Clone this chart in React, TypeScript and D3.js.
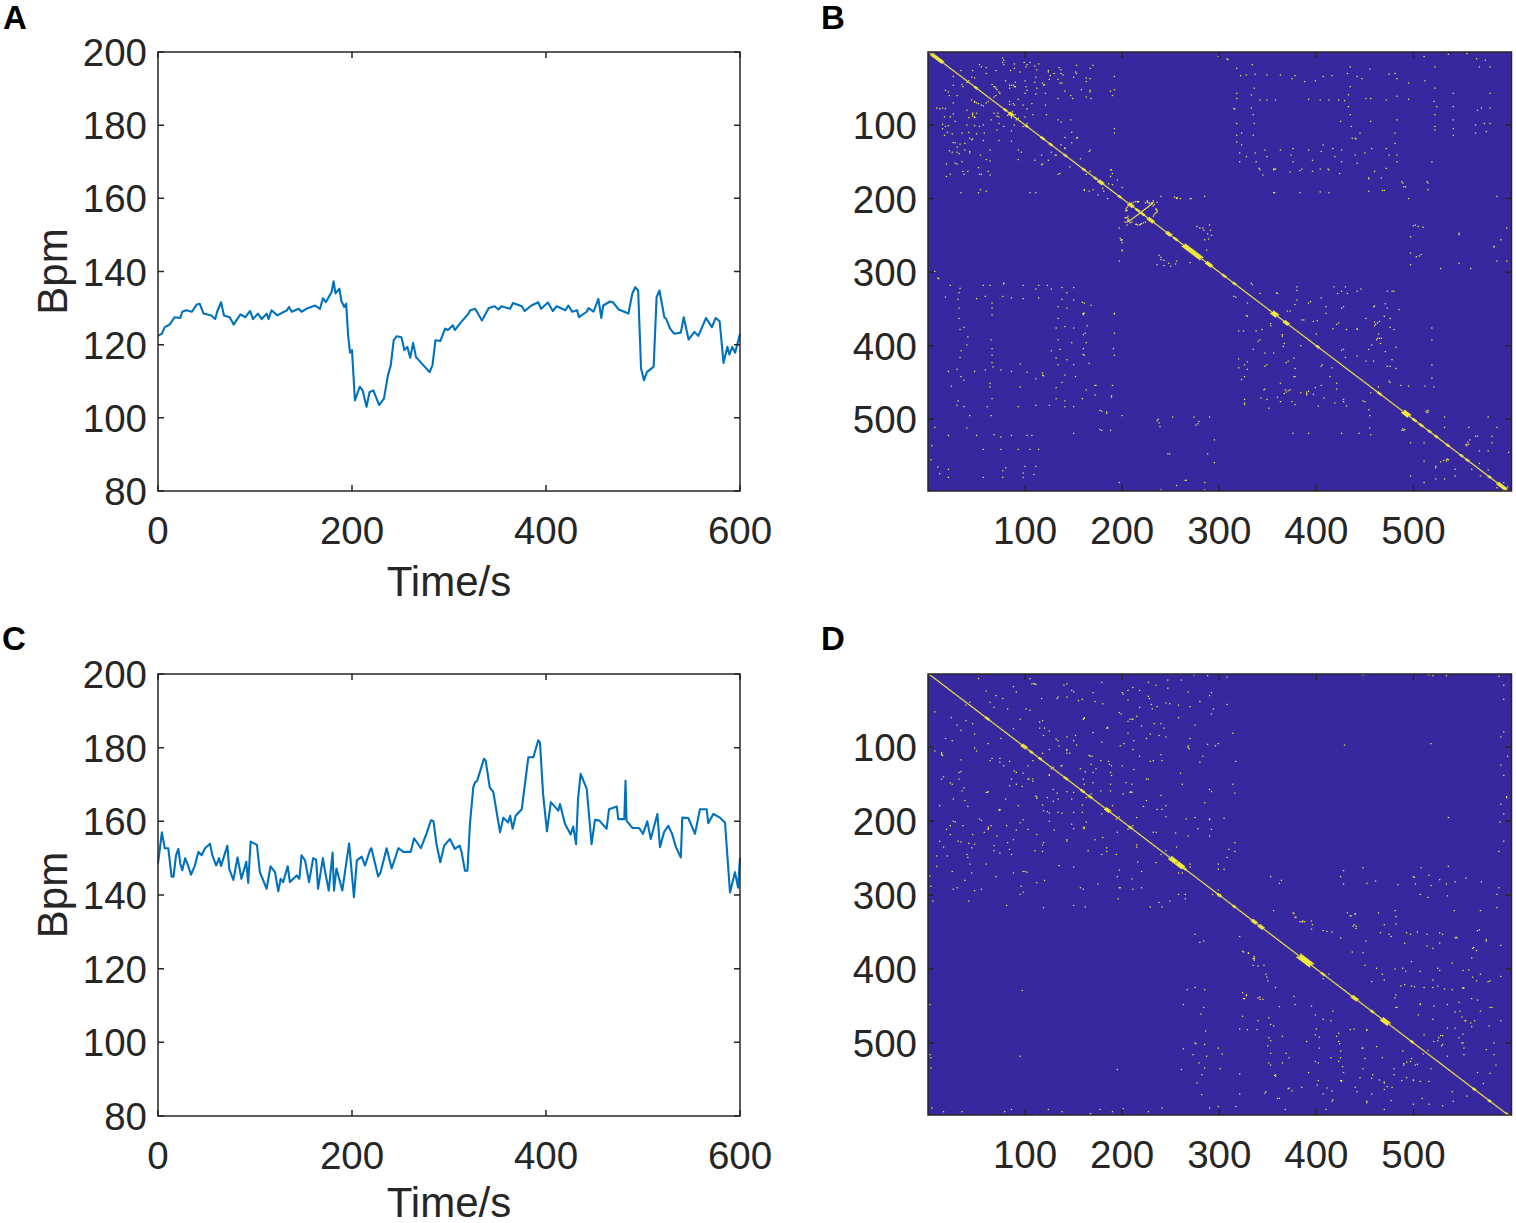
import React from "react";
import * as d3 from "d3";

const timeA = [0,4,7,12,17,23,25,29,35,40,43,47,55,59,61,65,68,74,78,85,90,95,98,103,107,112,114,117,123,133,135,138,145,148,153,162,167,170,173,179,181,183,187,189,192,194,196,198,200,203,208,211,215,218,222,228,233,237,240,243,246,251,254,257,260,263,266,280,283,286,291,296,299,304,306,311,320,322,327,334,341,347,351,354,363,366,375,378,385,392,395,402,407,411,420,423,427,432,434,442,444,449,454,457,459,466,469,475,485,489,492,495,498,501,504,511,514,517,522,524,528,532,539,542,547,553,557,565,571,575,579,583,587,589,592,595,600];
const bpmA = [122.4,123,124.8,125.5,127.5,127.3,129,129.4,129,131,131.2,128.5,128,127,129,131.6,128,127.5,125.5,128.3,127.5,129.2,127,128.5,127,128.5,127,129.4,128,129.4,130.3,129,129.8,129,129.8,130.7,129.8,132.7,131.6,134.4,137.3,134,135.3,132,130.3,131.2,122.5,117.8,118.5,104.8,108.5,107.5,103,107,107.5,103.5,105.3,111.6,114.4,121.2,122.3,122,118.5,119.4,116.4,120.5,116.6,112.5,114.4,121.2,121,124.4,124,125.3,124,125.7,128.5,129.4,129.8,126.6,130,130.5,129.6,130.5,129.8,131.4,130.5,129.2,130.7,131.6,129.8,131.5,129.2,130.5,129.4,130.7,129,129.4,127.5,129,130,129,132.5,127.3,130.7,131.8,131.6,129.6,128.5,134,135.7,134.8,113.5,110.3,112.5,114,133,134.8,127.5,127,124.4,123,123.3,127.5,121.4,123.5,122.4,127.3,124.8,127.3,126.4,115,119.4,117.3,119.4,117.8,123];

const timeC = [0,4,7,10.6,14,16,18.6,21,23,25,28,31,34,38,41.6,45,48.5,53.6,56,60,63,65,71.5,73.5,77.7,82,86,91,93,95.5,102,105,112,116,120.6,124,126.5,129,133.7,136,143,145.7,148,151.6,155.7,160,163,165,170,172,176,180,181.4,184,190,197,202,205,210,213.4,218.6,220,227,229.5,235.7,240.9,247.8,253,260.5,264,271,277,281.4,284,287,291,295,301,306,311,313,316.5,319,321.6,325,326.8,329,333.7,336,337.8,342,345.7,352.6,356,361,363,365.6,368.7,375,381.8,387,392,393.8,397,401,405,412.7,414.4,419.6,425.4,428,431,433,435.7,442,447,450.5,455,462.5,465,473,474.5,480.7,482,483,489,496,500,504.4,508,514.8,517.5,521.6,526,530,534,539,540.5,546.7,553.6,558.7,565.6,567.3,572.5,579.4,584.5,589.7,594.8,598,600];
const bpmC = [148.5,157,152.7,152.7,145,145,150.8,152.5,148.5,146.7,150,148,145.5,148,151.7,150.8,152.7,153.9,150.8,148,150,147.9,153.4,147,144.1,150.2,144.4,149,143.3,154.5,153.6,146.2,141.7,147.8,146.2,141,144.4,143.5,147.8,143.5,145.3,144.4,150.8,149.4,143.5,150,149.6,141.7,150,146.7,141.2,151.5,141.2,147.2,141.2,154,139.4,149.4,150.4,148,152.2,152.7,145,146.2,152.7,147.2,152.7,151.7,151.7,155.4,152.7,156.8,160.3,160,154,148.9,153.4,155.2,152.5,153.4,151.6,146.6,146.6,159.3,169.2,170.6,171,175,177,176.5,169.2,167.9,157,161,159.7,161.5,158,161.5,163.3,177.4,177.4,182,181.4,167.4,157.3,165.2,162.9,164.7,159.3,156.4,158.6,153.8,166,172.9,168.8,153.8,160.4,160.2,158,163.3,164,160.6,160.6,171,160.2,158.2,158.2,156.6,160,155.2,162,153,157,158.8,156.6,153,150.2,161,160.9,156.6,163.3,163.3,159.5,162,161,159.7,140.7,146.2,142,150];

const xTicks = [0,200,400,600];
const yTicks = [80,100,120,140,160,180,200];
const matTicks = [100,200,300,400,500];

const diagonalLength = 598;

// recurrence cells, one triangle; the matrix is symmetric
const pairsB: number[][] = [
[18,53],[22,60],[15,77],[18,78],[17,89],[15,99],[18,102],[17,114],[26,124],[33,126],[25,137],[30,137],[38,134],[43,138],[28,152],[35,150],[36,163],[41,163],[62,163],[60,147],[64,134],[43,118],[35,111],[46,84],[48,90],[53,102],[58,111],[68,84],[73,89],[65,93],[71,107],[78,102],[89,100],[98,102],[93,134],[93,147],[60,190],[110,148],[117,154],[124,148],[117,141],[131,141],[132,141],[136,166],[146,157],[153,118],[137,127],[137,96],[167,163],[166,190],[170,188],[180,186],[188,161],[189,161],[192,111],[192,105],[167,134],[192,52],[188,54],[167,53],[158,52],[167,55],[141,54],[192,34],[167,23],[170,19],[153,19],[60,70],[62,68],[70,60],[45,66],[50,70],[80,40],[88,46],[90,42],[100,40],[110,42],[120,45],[125,38],[130,30],[135,22],[95,28],[85,26],[70,26],[78,12],[105,15],[110,20],[60,30],[48,36],[40,42],[35,45],
[77,9],[77,15],[89,23],[101,21],[112,25],[124,28],[139,32],[153,30],[167,37],[119,46],[136,43],[69,48],[71,52],[74,57],[84,50],[89,48],[101,48],[112,50],[121,57],[121,73],[122,86],[108,86],[98,73],[88,71],[55,73],[48,68],[46,86],[57,100],[72,84],[84,84],[87,82],[90,86],[91,93],[168,64],[149,64],[55,21],[26,34],[26,46],
[208,230],[209,229],[210,228],[211,227],[212,226],[213,225],[214,224],[215,223],[216,222],[217,221],[218,220],[205,232],[206,231],[207,231],[204,216],[204,217],[205,216],[206,228],[207,228],[203,226],[204,226],[218,236],[219,235],[220,234],[222,233],[224,232],[214,235],[215,235],[216,236],[210,206],[212,205],[214,204],[203,232],[205,236],[224,206],[226,205],[228,207],[230,206],[232,210],[233,208],[200,256],[199,256],[199,257],[198,254],[200,270],[200,260],[197,240],[200,271],[197,285],[238,277],[240,283],[243,291],[250,292],[255,289],[270,287],[280,240],[284,243],[288,248],[285,256],[290,236],[181,190],[175,195],[185,200],
[299,7],[308,10],[309,11],[318,23],[322,33],[328,32],[337,31],[334,18],[349,32],[363,32],[375,37],[378,33],[388,41],[399,40],[407,34],[416,33],[432,30],[435,21],[442,34],[447,37],[455,24],[475,31],[483,37],[481,30],[495,43],[511,7],[522,21],[512,40],[522,50],[536,4],[555,3],[565,10],[574,12],[579,21],[568,21],[541,57],[579,57],[342,66],[349,66],[358,66],[392,65],[404,66],[413,66],[423,66],[429,67],[451,64],[456,64],[472,66],[483,61],[495,65],[315,78],[316,78],[333,77],[335,86],[336,50],[333,59],[318,57],[318,64],[318,98],[336,98],[318,114],[335,114],[323,111],[318,123],[435,48],[433,59],[433,75],[435,86],[436,102],[425,95],[456,95],[483,93],[481,111],[481,125],[472,132],[437,118],[440,118],[441,119],[445,111],[521,68],[524,75],[522,86],[522,102],[522,107],[541,75],[541,93],[541,105],[541,114],[566,80],[570,77],[579,77],[564,100],[564,111],[573,98],[579,98],[575,109],[323,127],[321,138],[328,143],[321,150],[337,138],[338,150],[347,134],[349,143],[363,134],[376,132],[374,141],[376,150],[392,134],[396,148],[407,127],[405,136],[417,132],[419,143],[426,134],[426,150],[440,141],[450,138],[442,152],[457,132],[475,141],[483,141],[483,150],[519,150],[341,159],[342,161],[356,160],[357,160],[358,160],[356,161],[383,162],[385,160],[412,160],[413,161],[404,160],[396,163],[373,164],[424,166],[345,168],[454,172],[454,173],[460,163],[472,159],[467,172],[454,190],[468,189],[470,189],[488,177],[489,179],[492,184],[490,184],[495,200],[514,177],[515,179],[515,188],[356,192],[357,192],[383,192],[404,191],[413,192],[586,197],[597,200],[500,237],[502,236],[505,238],[510,239],[497,252],[547,247],[547,249],[497,274],[503,279],[508,276],[506,278],[497,290],[528,295],[547,288],[559,295],[583,265],[583,266],[590,256],[596,240],[586,285],[596,285],
[320,380],[325,380],[335,405],[320,418],[329,422],[320,430],[329,432],[323,446],[346,460],[343,471],[360,470],[351,485],[375,476],[363,476],[326,478],[368,460],[373,460],[384,464],[392,462],[399,457],[397,466],[408,471],[402,482],[431,482],[428,476],[454,487],[450,476],[421,451],[377,442],[363,451],[377,417],[347,428],[347,410],[340,394],[338,380],[365,387],[366,401],[384,400],[406,426],[416,430],[428,405],[442,414],[454,405],[459,421],[463,390],[465,390],[467,390],[463,369],[465,367],[461,371],[480,378],[478,419],[473,428],[519,376],[519,392],[519,426],[519,444],[512,455],[475,448],[495,455],[456,464],[513,489],[514,491],[488,515],[490,515],[456,521],[497,532],[511,532],[511,557],[523,564],[528,558],[531,556],[535,554],[536,555],[543,568],[543,577],[560,568],[569,577],[497,577],[511,586],[555,534],[557,534],[566,523],[581,523],[581,532],[598,545],[359,328],[370,353],[373,353],[397,367],[421,371],[423,369],[410,356],[426,349],[378,344],[392,342],[442,326],[426,326],[473,326],[480,326],[459,347],[473,349],[442,378],[431,378],[385,365],[334,317],[315,333],[329,342],[329,360],[588,590],[593,586],[595,595],[586,593],[592,597]
];
const blobsB: number[][] = [[5,14,3],[49,50,2],[79,80,2],[85,86,3],[101,102,2],[117,119,2],[126,127,2],[141,142,2],[160,161,2],[172,173,2],[177,179,3],[197,198,2],[208,210,3],[215,217,2],[220,222,2],[228,231,3],[247,249,3],[254,256,2],[265,280,4],[288,291,3],[304,306,2],[315,316,2],[356,358,4],[368,370,3],[401,402,2],[464,466,2],[491,494,4],[500,502,2],[507,509,2],[516,517,2],[523,524,2],[535,536,2],[549,550,2],[555,556,2],[578,579,2],[588,594,3]];

const pairsD: number[][] = [
[14,107],[14,109],[15,111],[14,143],[32,143],[32,134],[25,150],[35,159],[12,179],[38,172],[26,170],[60,161],[61,161],[73,185],[74,185],[111,166],[103,143],[104,143],[53,197],[65,206],[62,211],[26,200],[19,211],[36,206],[12,227],[31,227],[45,236],[40,245],[20,247],[9,261],[43,258],[74,243],[84,238],[55,292],[26,292],[3,288],[2,274],[98,268],[100,268],[96,288],[119,229],[143,227],[179,245],[194,245],[198,290],[160,292],[211,292],[235,256],[160,209],[103,211],[95,202],[81,206],[71,220],[84,152],[91,150],[74,120],[64,118],[88,75],[91,134],[129,157],[123,168],[119,186],[134,188],[150,188],[134,170],[150,161],[168,163],[188,159],[190,179],[201,163],[194,197],[160,143],[129,127],[137,125],[138,125],[167,112],[169,112],[143,108],[146,108],[187,123],[189,125],[173,129],[189,138],[170,148],[178,159],[208,161],[210,161],[208,62],[210,62],[184,74],[185,74],[160,62],[115,66],[115,74],[148,23],[268,98],[269,102],[296,98],[218,46],[199,55],[241,184],[225,143],[232,118],[241,118],[204,148],[211,206],[232,215],[184,236],[266,197],[290,197],[290,220],[290,157],[290,30],[294,48],[258,270],[262,270],[265,299],[299,265],[43,39],[64,39],[68,46],[52,7],[110,14],[140,16],[105,7],[77,34],[91,25],[117,34],[133,34],[155,37],[180,41],[201,28],[206,23],[218,23],[228,34],[235,16],[247,9],[231,48],[249,41],[233,68],[240,68],[229,82],[212,91],[198,98],[170,80],[179,93],[132,89],[143,86],[119,84],[82,48],[101,48],[30,70],[18,88],[24,60],[50,105],[62,95],[78,125],[98,135],[108,118],[125,103],[153,97],[162,133],[178,118],[200,125],[218,112],[150,210],[172,225],[195,215],[215,235],[42,230],[58,215],[88,225],[110,240],[130,212],[165,240],[180,222],[25,268],[38,280],[70,275],[120,280],[150,262],[195,275],[220,268],[245,240],[255,216],[278,210],[285,175],[260,135],[270,88],[258,60],[283,112],[245,86],[270,45],
[299,301],[335,386],[336,386],[324,376],[330,378],[348,407],[349,411],[350,416],[325,440],[326,440],[340,439],[342,441],[377,437],[413,407],[383,336],[385,336],[388,336],[377,325],[379,330],[395,335],[396,340],[395,346],[432,324],[436,328],[438,342],[441,345],[435,328],[329,482],[339,482],[356,477],[351,493],[365,491],[350,504],[369,514],[365,527],[351,527],[358,543],[372,561],[360,575],[347,568],[401,557],[411,561],[417,577],[425,551],[426,551],[425,520],[427,532],[399,525],[399,489],[423,498],[421,491],[407,468],[417,457],[399,462],[435,482],[452,482],[447,507],[462,505],[445,547],[442,566],[458,543],[465,550],[473,559],[478,560],[470,563],[452,581],[480,543],[488,551],[507,552],[509,575],[541,579],[481,400],[492,403],[507,403],[527,402],[551,402],[487,423],[501,424],[511,425],[525,423],[540,428],[552,426],[451,362],[466,351],[475,353],[497,353],[514,353],[530,353],[544,357],[545,358],[566,348],[575,362],[514,369],[562,371],[481,321],[464,324],[542,321],[569,321],[586,317],[356,321],[507,448],[521,450],[535,448],[548,457],[569,457],[579,452],[553,470],[554,470],[535,480],[578,477],[550,500],[551,500],[547,493],[526,493],[528,490],[530,502],[521,498],[552,516],[535,518],[583,516],[583,500],[511,489],[497,525],[504,529],[483,452],[569,407],[565,416],[579,416],[481,439],[440,560],[375,565],[392,540],[415,520],[468,520],[490,530],[515,510],[566,540],[572,555],[340,470],[378,448],[358,425],[450,395],[470,415],[498,390],[520,372],[560,385],[590,368],[590,410],[590,470],[585,530],
[275,353],[284,362],[280,364],[275,425],[285,428],[267,428],[263,448],[284,452],[281,461],[286,484],[275,500],[276,501],[285,502],[263,508],[273,516],[287,518],[279,527],[285,534],[282,543],[277,554],[282,570],[261,536],[2,448],[2,516],[3,520],[3,534],[97,429],[95,518],[195,536],[4,588],[16,593],[35,593],[79,593],[86,590],[112,597],[124,590],[138,593],[167,596],[168,596],[177,590],[190,593],[201,589],[227,593],[241,588],[290,588],[5,308],[42,308],[81,314],[119,317],[150,314],[162,316],[229,316],[241,316],[95,299],[196,305],[258,299],[265,305],[293,299],[249,308],[238,310],[507,299],[535,301],[515,303],[586,299]
];
const blobsD: number[][] = [[60,62,2],[98,100,3],[106,107,2],[115,116,2],[141,143,2],[158,160,2],[166,168,2],[184,186,3],[208,209,2],[251,254,4],[258,261,4],[263,265,2],[299,301,2],[315,316,2],[335,337,3],[342,344,3],[384,388,5],[390,393,5],[406,408,2],[438,441,3],[457,458,2],[469,473,4],[498,499,2],[562,563,2],[578,579,2],[596,597,2]];

const INK = "#262626";
const BLUE = "#0072bd";
const FONT = "'Liberation Sans', Arial, sans-serif";
const TICK_SIZE = 38.5;
const LABEL_SIZE = 42;

function cellsFrom(pairs: number[][], blobs: number[][]) {
  const keys = new Set<string>();
  const add = (a: number, b: number) => { keys.add(a + "," + b); keys.add(b + "," + a); };
  d3.range(1, diagonalLength + 1).forEach((k) => add(k, k));
  pairs.forEach(([a, b]) => add(a, b));
  blobs.forEach(([s, e, h]) => {
    d3.range(s, e + 1).forEach((k) => {
      d3.range(-h + 1, h).forEach((d) => add(k, k + d));
    });
  });
  return Array.from(keys).map((k) => k.split(",").map(Number));
}

function LinePanel({ top, bottom, time, bpm, labelY }: { top: number; bottom: number; time: number[]; bpm: number[]; labelY: number }) {
  const left = 158, right = 740;
  const x = d3.scaleLinear().domain([0, 600]).range([left, right]);
  const y = d3.scaleLinear().domain([80, 200]).range([bottom, top]);
  const line = d3.line<number>().x((_, i) => x(time[i])).y((d) => y(d));
  return (
    <g fontFamily={FONT} fill={INK}>
      <path d={line(bpm) || ""} fill="none" stroke={BLUE} strokeWidth={2.1} strokeLinejoin="round" />
      <rect x={left} y={top} width={right - left} height={bottom - top} fill="none" stroke={INK} strokeWidth={1.5} />
      {xTicks.map((t) => (
        <g key={t}>
          <path d={`M${x(t)},${bottom}v-6M${x(t)},${top}v6`} stroke={INK} strokeWidth={1.5} />
          <text x={x(t)} y={bottom + 53} textAnchor="middle" fontSize={TICK_SIZE}>{t}</text>
        </g>
      ))}
      {yTicks.map((t) => (
        <g key={t}>
          <path d={`M${left},${y(t)}h6M${right},${y(t)}h-6`} stroke={INK} strokeWidth={1.5} />
          <text x={left - 11} y={y(t) + 14} textAnchor="end" fontSize={TICK_SIZE}>{t}</text>
        </g>
      ))}
      <text x={(left + right) / 2} y={labelY} textAnchor="middle" fontSize={LABEL_SIZE}>Time/s</text>
      <text transform={`translate(67,${(top + bottom) / 2}) rotate(-90)`} textAnchor="middle" fontSize={LABEL_SIZE}>Bpm</text>
    </g>
  );
}

function MatrixPanel({ top, bottom, pairs, blobs }: { top: number; bottom: number; pairs: number[][]; blobs: number[][] }) {
  const left = 928, right = 1511.5;
  const x = d3.scaleLinear().domain([0, 601]).range([left, right]);
  const y = d3.scaleLinear().domain([0.8, 597.5]).range([top, bottom]);
  const cells = cellsFrom(pairs, blobs).filter(([a, b]) => a <= 600 && b <= 597);
  return (
    <g fontFamily={FONT} fill={INK}>
      <rect x={left} y={top} width={right - left} height={bottom - top} fill="#3828a0" />
      <g fill="#f6ee3a">
        {cells.map(([a, b]) => (
          <rect key={a + "-" + b} x={x(a) - 0.65} y={y(b) - 0.6} width={1.3} height={1.2} />
        ))}
      </g>
      <rect x={left} y={top} width={right - left} height={bottom - top} fill="none" stroke={INK} strokeWidth={1.5} />
      {matTicks.map((t) => (
        <g key={t}>
          <path d={`M${x(t)},${bottom}v-6M${x(t)},${top}v6M${left},${y(t)}h6M${right},${y(t)}h-6`} stroke={INK} strokeWidth={1.5} />
          <text x={x(t)} y={bottom + 53} textAnchor="middle" fontSize={TICK_SIZE}>{t}</text>
          <text x={left - 11} y={y(t) + 14} textAnchor="end" fontSize={TICK_SIZE}>{t}</text>
        </g>
      ))}
    </g>
  );
}

export default function App() {
  const letter = (t: string, px: number, py: number) => (
    <text x={px} y={py} fontFamily={FONT} fontWeight="bold" fontSize={33} fill="#000">{t}</text>
  );
  return (
    <svg width={1516} height={1223} style={{ position: "absolute", left: 0, top: 0, display: "block", background: "#fff" }}>
      <LinePanel top={52} bottom={491} time={timeA} bpm={bpmA} labelY={596} />
      <LinePanel top={674} bottom={1116} time={timeC} bpm={bpmC} labelY={1217} />
      <MatrixPanel top={52} bottom={491} pairs={pairsB} blobs={blobsB} />
      <MatrixPanel top={674} bottom={1115} pairs={pairsD} blobs={blobsD} />
      {letter("A", 3, 29)}
      {letter("B", 821, 29)}
      {letter("C", 2, 650)}
      {letter("D", 821, 650)}
    </svg>
  );
}
